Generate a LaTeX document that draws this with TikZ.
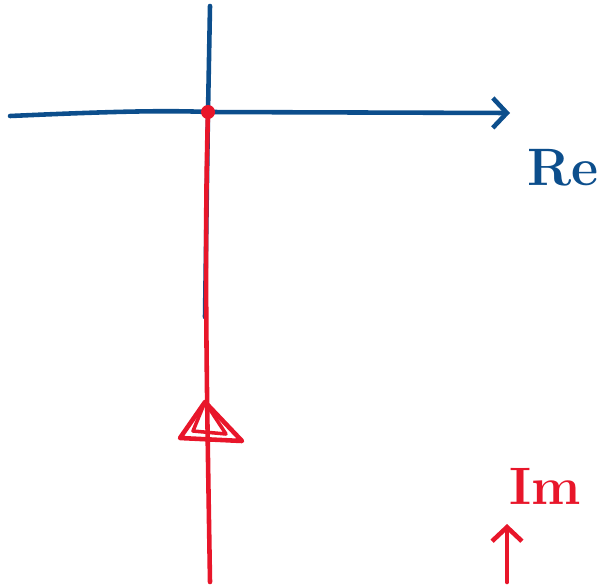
\documentclass[tikz,border=0pt]{standalone}
\usepackage{tikz}
\usetikzlibrary{arrows.meta, positioning, calc}
\definecolor{axisblue}{RGB}{12,78,140}
\definecolor{pathred}{RGB}{232,22,42}

\begin{document}
\begin{tikzpicture}[
    x=0.02cm, y=-0.02cm,
    axis/.style={axisblue, line width=2.6pt, line cap=round},
    contour/.style={pathred, line width=2.6pt, line cap=round},
    chevron/.style={-{Straight Barb[length=8pt, width=17pt, line width=2.6pt]}},
    lbl/.style={inner sep=0pt, font=\fontsize{30}{30}\selectfont\bfseries}
]
\useasboundingbox (0,0) rectangle (604,585);

% Axis points
\coordinate (west) at (10,116);
\coordinate (east) at (510,113);
\coordinate (top) at (210,6);
\coordinate (low) at (205,317);
\coordinate (origin) at (208,112);
\coordinate (bottom) at (210,582);

% Axes
\draw[axis, chevron] (west) .. controls (100,112) and (160,110) .. (origin) -- (east);
\draw[axis] (top) -- (origin) -- (low);
\node[lbl, text=axisblue] (re) at (563,168) {Re};

% Contour along the imaginary axis
\draw[contour] (origin) .. controls (204,250) and (207,400) .. (bottom);
\fill[pathred] (origin) circle (7);

% Direction triangle
\coordinate (apex) at (205,402);
\draw[contour, line join=round] (apex) -- (180,438) -- (242,441) -- cycle;
\draw[contour, line width=2pt, line join=round] (apex) -- (193,431) -- (226,434) -- cycle;

% Im label with its arrow
\node[lbl, text=pathred] (im) at (545,486) {Im};
\coordinate (imfoot) at (507,582);
\coordinate (imhead) at (507,524);
\draw[contour, chevron] (imfoot) -- (imhead);
\end{tikzpicture}
\end{document}
